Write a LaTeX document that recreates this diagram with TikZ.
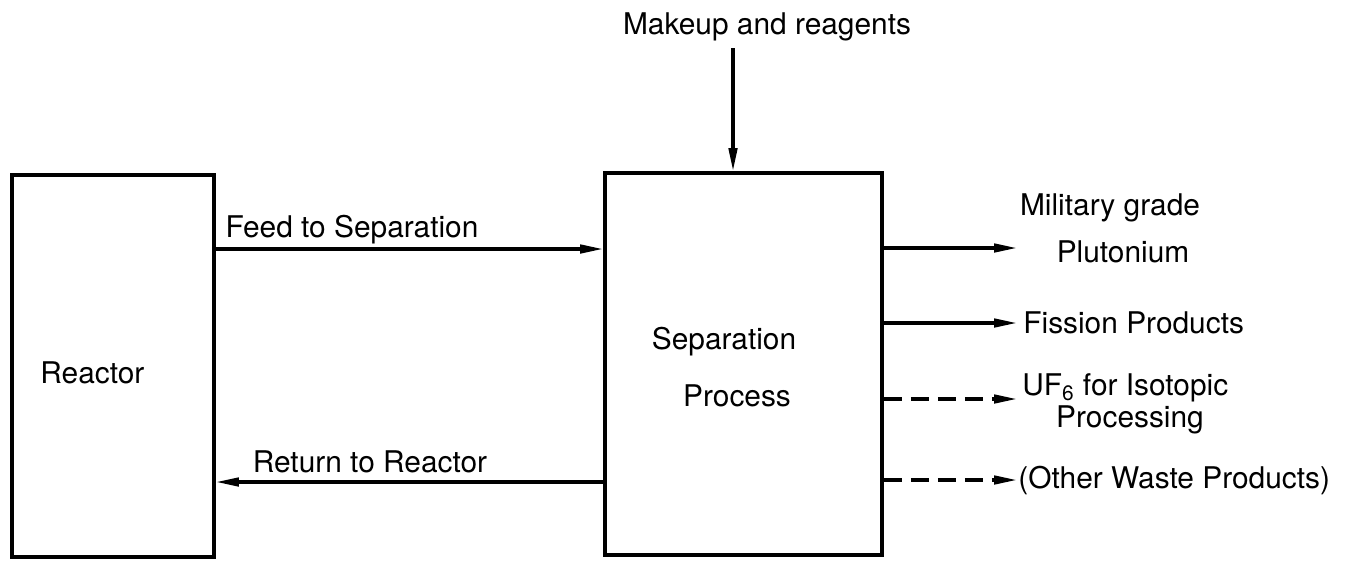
\documentclass[tikz,border=0pt]{standalone}
\usepackage{fontspec}
\setmainfont{TeX Gyre Heros}
\usetikzlibrary{arrows.meta}
\usetikzlibrary{positioning}

\tikzset{
  unit/.style={draw, line width=2.2pt, inner sep=0pt},
  flow/.style={line width=1.8pt, -{Triangle[length=4.6mm,width=1.7mm]}},
  aux/.style={flow, dash pattern=on 3.6mm off 1.8mm},
  lbl/.style={font=\fontsize{17}{21}\selectfont, inner sep=0pt},
}

\begin{document}
\begin{tikzpicture}[x=0.02cm, y=-0.02cm]
  \useasboundingbox (0,0) rectangle (1354,572);

  % the two units
  \node[unit, minimum width=4.04cm, minimum height=7.64cm] (reactor) at (113,366) {};
  \node[unit, minimum width=5.54cm, minimum height=7.64cm] (sep) at (743.5,364) {};
  \node[lbl, anchor=west] (reactorlbl) at (40,373) {Reactor};
  \node[lbl] (seplbl) at (724,342) {Separation};
  \node[lbl] (seplblb) at (737,396) {Process};

  % loop between reactor and separation
  \coordinate (feed) at (0,249);
  \coordinate (back) at (0,482);
  \draw[flow] (reactor.east |- feed) -- (sep.west |- feed);
  \draw[flow] (sep.west |- back) -- (reactor.east |- back);
  \node[lbl] (feedlbl) at (352,230) {Feed to Separation};
  \node[lbl] (backlbl) at (370,462) {Return to Reactor};

  % makeup stream
  \node[lbl] (makeup) at (767,27) {Makeup and reagents};
  \coordinate (inlet) at (733,48);
  \draw[flow] (inlet) -- (inlet |- sep.north);

  % products leaving the separation
  \foreach \name/\y in {pu/248, fp/323, uf/399, ow/480}
    \coordinate (\name) at (1017,\y);
  \draw[flow] (sep.east |- pu) -- (pu);
  \draw[flow] (sep.east |- fp) -- (fp);
  \draw[aux] (sep.east |- uf) -- (uf);
  \draw[aux] (sep.east |- ow) -- (ow);

  \node[lbl] (pulbl) at (1110,208) {Military grade};
  \node[lbl] (pulblb) at (1123,252) {Plutonium};
  \node[lbl, anchor=west] (fplbl) at (1023,323) {Fission Products};
  \node[lbl, anchor=west] (uflbl) at (1022,388) {UF\textsubscript{6} for Isotopic};
  \node[lbl] (uflblb) at (1130,420) {Processing};
  \node[lbl, anchor=west] (owlbl) at (1018,480) {(Other Waste Products)};
\end{tikzpicture}
\end{document}
